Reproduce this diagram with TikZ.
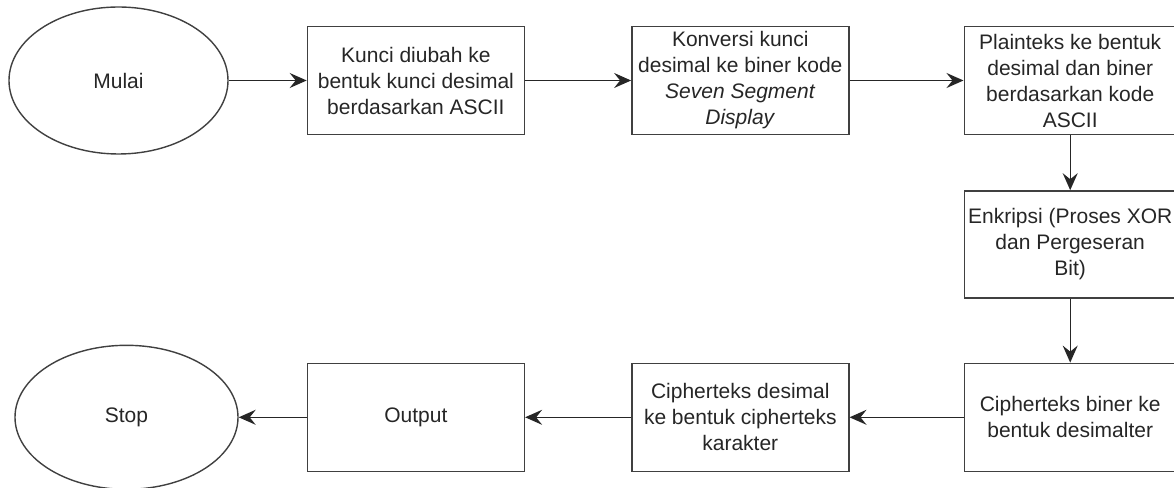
\documentclass[tikz,border=0pt]{standalone}
\usepackage{fontspec}
\setmainfont{Liberation Sans}
\usepackage{tikz}
\usetikzlibrary{positioning}
\usetikzlibrary{shapes.geometric}
\usetikzlibrary{arrows.meta}

\tikzset{
  proc/.style={draw=black!75, line width=1.4pt, minimum width=217pt, minimum height=108pt,
    inner sep=0pt, align=center, text=black!85, font=\fontsize{21}{26}\selectfont},
  term/.style={ellipse, draw=black!75, line width=1.4pt, minimum width=219pt, minimum height=147pt,
    inner sep=0pt, text=black!85, font=\fontsize{21}{26}\selectfont},
  flow/.style={-{Stealth[length=17pt,width=15pt,inset=6pt]}, line width=1.4pt, black!85}
}

\begin{document}
\begin{tikzpicture}[x=1pt,y=1pt]
    \useasboundingbox (0,0) rectangle (1174,487);

        % Define nodes
        \node[term]                                   (mulai)    at (118.5,406.5) {Mulai};
        \node[proc, right=78pt of mulai]              (kunci)    {Kunci diubah ke\\bentuk kunci desimal\\berdasarkan ASCII};
        \node[proc, right=106pt of kunci]             (konversi) {Konversi kunci\\desimal ke biner kode\\\textit{Seven Segment}\\\textit{Display}};
        \node[proc, right=114pt of konversi, minimum width=212pt] (plain) {Plainteks ke bentuk\\desimal dan biner\\berdasarkan kode\\ASCII};
        \node[proc, below=55pt of plain, minimum width=212pt, minimum height=107pt] (enkripsi) {Enkripsi (Proses XOR\\dan Pergeseran\\Bit)};
        \node[proc, below=64pt of enkripsi, minimum width=212pt] (cbiner) {Cipherteks biner ke\\bentuk desimalter};
        \node[proc, left=114pt of cbiner]             (cdesimal) {Cipherteks desimal\\ke bentuk cipherteks\\karakter};
        \node[proc, left=106pt of cdesimal]           (output)   {Output};
        \node[term, left=68pt of output, minimum width=223pt, minimum height=144pt] (stop) {Stop};
        % Connect the nodes
        \foreach \a/\b in {mulai/kunci, kunci/konversi, konversi/plain, plain/enkripsi,
                           enkripsi/cbiner, cbiner/cdesimal, cdesimal/output, output/stop}
          \draw[flow] (\a) -- (\b);
      \end{tikzpicture}
\end{document}
